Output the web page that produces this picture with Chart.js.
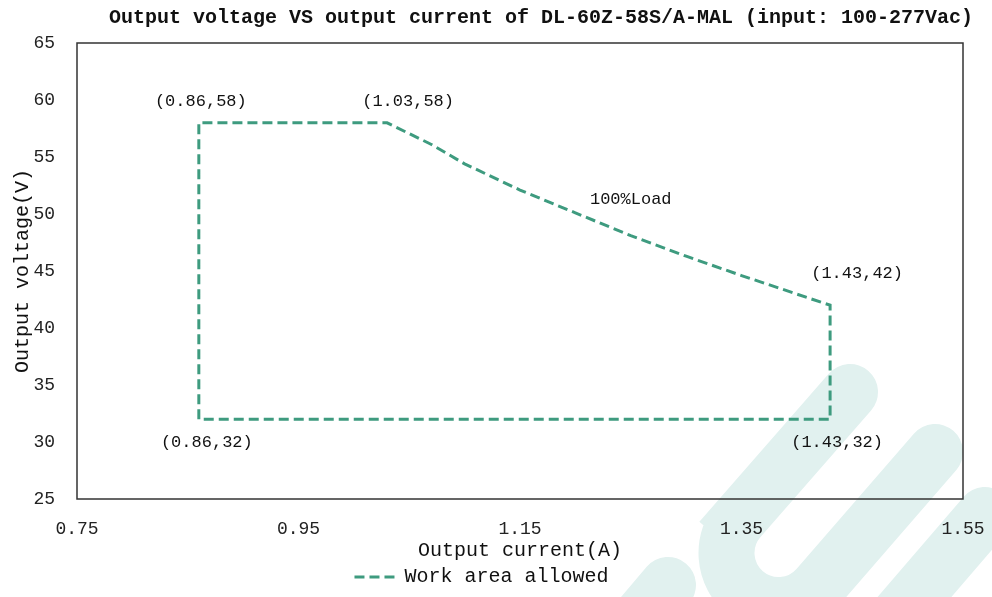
<!DOCTYPE html>
<html>
<head>
<meta charset="utf-8">
<script src="https://cdn.jsdelivr.net/npm/chart.js@4.4.1/dist/chart.umd.min.js"></script>
<style>
	html, body { margin: 0; padding: 0; background: #fff; }
	canvas { display: block; }
</style>
</head>
<body>
<canvas id="myChart" width="992" height="597"></canvas>
<script>
// work area outline (current in A, voltage in V)
const currentA = [0.86, 0.86, 1.03, 1.07, 1.10, 1.15, 1.20, 1.25, 1.30, 1.35, 1.43, 1.43, 0.86];
const voltageV = [32, 58, 58, 56.1, 54.4, 52.1, 50.1, 48.1, 46.3, 44.6, 42, 32, 32];

const xTicks = [0.75, 0.95, 1.15, 1.35, 1.55];
const yTicks = [25, 30, 35, 40, 45, 50, 55, 60, 65];

// labelled corners
const cornerA = [0.86, 1.03, 1.43, 1.43, 0.86];
const cornerV = [58, 58, 42, 32, 32];
const cornerText = ["(0.86,58)", "(1.03,58)", "(1.43,42)", "(1.43,32)", "(0.86,32)"];

const loadText = "100%Load";
const loadAt = [1.25, 51.3];

const titleText = "Output voltage VS output current of DL-60Z-58S/A-MAL (input: 100-277Vac)";
const seriesName = "Work area allowed";

const lineColor = "#3e9b7f";
const mono = "'Liberation Mono', 'DejaVu Sans Mono', monospace";

// faint logo in the background, bottom right
const watermark = {
	id: "watermark",
	beforeDraw(chart) {
		const c = chart.ctx;
		c.save();
		c.strokeStyle = "#e1f1ef";
		c.lineWidth = 56;
		c.lineCap = "round";
		c.beginPath();
		c.moveTo(850, 392);
		c.lineTo(739, 519);
		c.arc(778.5, 553, 52, Math.atan2(-34, -39.5), Math.atan2(34, 39.5), true);
		c.lineTo(935, 452);
		c.stroke();
		c.beginPath();
		c.moveTo(985, 515);
		c.lineTo(850, 672);
		c.stroke();
		c.beginPath();
		c.moveTo(668, 585);
		c.lineTo(600, 665);
		c.stroke();
		c.restore();
	},
};

// box round the plot area, and the title
const frame = {
	id: "frame",
	beforeDatasetsDraw(chart) {
		const { ctx: c, chartArea: a } = chart;
		c.save();
		c.strokeStyle = "#333";
		c.lineWidth = 1.5;
		c.strokeRect(a.left, a.top, a.right - a.left, a.bottom - a.top);
		c.restore();
	},
	afterDraw(chart) {
		const c = chart.ctx;
		c.save();
		c.font = "bold 20px " + mono;
		c.fillStyle = "#111";
		c.textAlign = "center";
		c.textBaseline = "middle";
		c.fillText(titleText, 541, 18);
		c.restore();
	},
};

// point labels placed next to their corners
const labelOffsets = [[2, -21], [21, -21], [27, -32], [7, 23], [8, 23]];
const pointLabels = {
	id: "pointLabels",
	afterDatasetsDraw(chart) {
		const c = chart.ctx;
		const x = chart.scales.x;
		const y = chart.scales.y;
		c.save();
		c.font = "17px " + mono;
		c.fillStyle = "#111";
		c.textAlign = "center";
		c.textBaseline = "middle";
		cornerText.forEach((t, i) => {
			const px = x.getPixelForValue(cornerA[i]) + labelOffsets[i][0];
			const py = y.getPixelForValue(cornerV[i]) + labelOffsets[i][1];
			c.fillText(t, px, py);
		});
		c.fillText(loadText, x.getPixelForValue(loadAt[0]), y.getPixelForValue(loadAt[1]));
		c.restore();
	},
};

const ctx = document.getElementById("myChart");

new Chart(ctx, {
	type: "scatter",
	data: {
		datasets: [
			{
				label: seriesName,
				data: currentA.map((a, i) => ({ x: a, y: voltageV[i] })),
				showLine: true,
				borderColor: lineColor,
				backgroundColor: "rgba(0,0,0,0)",
				borderWidth: 3,
				borderDash: [10, 5],
				pointRadius: 0,
				tension: 0,
			},
		],
	},
	options: {
		responsive: false,
		animation: false,
		devicePixelRatio: 1,
		layout: { padding: { top: 43, left: 0, right: 29, bottom: 0 } },
		plugins: {
			legend: {
				position: "bottom",
				labels: {
					boxWidth: 40,
					boxHeight: 0,
					padding: 2,
					color: "#111",
					font: { family: mono, size: 20 },
					// the legend box is a zero-height rect, so the dash pattern
					// leaves the return stroke blank
					generateLabels: () => [{
						text: seriesName,
						fillStyle: "rgba(0,0,0,0)",
						strokeStyle: lineColor,
						lineWidth: 3,
						lineDash: [10, 5, 10, 5, 10, 40],
						fontColor: "#111",
						datasetIndex: 0,
					}],
				},
			},
			tooltip: { enabled: false },
		},
		scales: {
			x: {
				type: "linear",
				min: 0.75,
				max: 1.55,
				afterBuildTicks: (s) => { s.ticks = xTicks.map((v) => ({ value: v })); },
				afterFit: (s) => { s.height = 66; },
				grid: { display: false, drawTicks: true, tickLength: 19 },
				border: { display: false },
				ticks: {
					padding: 0,
					color: "#222",
					font: { family: mono, size: 18 },
					callback: (v) => v.toFixed(2),
				},
				title: {
					display: true,
					text: "Output current(A)",
					color: "#111",
					font: { family: mono, size: 20 },
					padding: { top: 0, bottom: 2 },
				},
			},
			y: {
				min: 25,
				max: 65,
				afterBuildTicks: (s) => { s.ticks = yTicks.map((v) => ({ value: v })); },
				afterFit: (s) => { s.width = 77; },
				grid: { display: false, drawTicks: true, tickLength: 22 },
				border: { display: false },
				ticks: {
					padding: 0,
					color: "#222",
					font: { family: mono, size: 18 },
				},
				title: {
					display: true,
					text: "Output voltage(V)",
					color: "#111",
					font: { family: mono, size: 20 },
					padding: { top: 11, bottom: 0 },
				},
			},
		},
	},
	plugins: [watermark, frame, pointLabels],
});
</script>
</body>
</html>
